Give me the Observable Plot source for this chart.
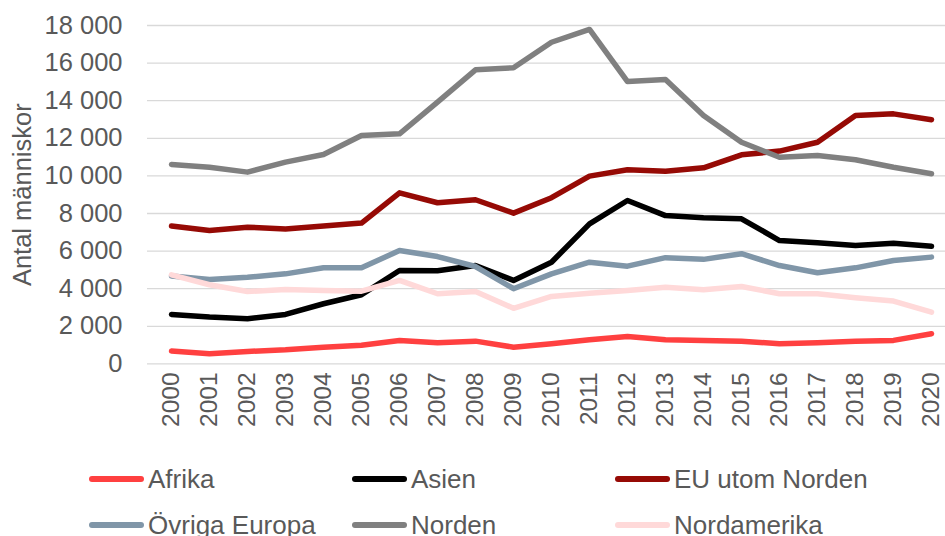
<!DOCTYPE html>
<html>
<head>
<meta charset="utf-8">
<script src="https://cdn.jsdelivr.net/npm/d3@7"></script>
<script src="https://cdn.jsdelivr.net/npm/@observablehq/plot@0.6"></script>
<style>
  html, body { margin: 0; padding: 0; background: #fff; overflow: hidden; }
  body { width: 945px; height: 536px; font-family: "Liberation Sans", Arial, sans-serif; color: #595959; }
  #legend { display: grid; grid-template-columns: 263px 263px 263px; padding-left: 89px; }
  .item { height: 46px; display: flex; align-items: center; font-size: 26px; white-space: nowrap; }
  .item svg { margin-right: 4px; flex: none; }
</style>
</head>
<body>
<div id="chart"></div>
<div id="legend"></div>
<script>
const years = [2000, 2001, 2002, 2003, 2004, 2005, 2006, 2007, 2008, 2009, 2010,
               2011, 2012, 2013, 2014, 2015, 2016, 2017, 2018, 2019, 2020];
const afrika       = [680, 540, 660, 750, 890, 990, 1240, 1120, 1210, 890, 1070, 1280, 1460, 1280, 1250, 1210, 1070, 1120, 1210, 1250, 1600];
const asien        = [2630, 2490, 2400, 2630, 3200, 3680, 4970, 4950, 5230, 4440, 5410, 7450, 8690, 7890, 7770, 7720, 6560, 6440, 6300, 6420, 6260];
const euUtomNorden = [7330, 7100, 7270, 7180, 7330, 7490, 9100, 8570, 8730, 8020, 8840, 9990, 10330, 10250, 10430, 11120, 11320, 11790, 13210, 13300, 12990];
const ovrigaEuropa = [4670, 4490, 4610, 4790, 5110, 5110, 6030, 5710, 5180, 4000, 4790, 5410, 5200, 5650, 5560, 5860, 5230, 4850, 5110, 5500, 5680];
const norden       = [10610, 10460, 10200, 10730, 11140, 12150, 12240, 13920, 15640, 15750, 17110, 17790, 15020, 15130, 13210, 11790, 10990, 11090, 10860, 10460, 10110];
const nordamerika  = [4740, 4210, 3850, 3960, 3900, 3870, 4440, 3730, 3850, 2960, 3590, 3760, 3900, 4080, 3940, 4120, 3730, 3730, 3520, 3340, 2750];

const seriesNames = ["Afrika", "Asien", "EU utom Norden", "Övriga Europa", "Norden", "Nordamerika"];
const seriesValues = [afrika, asien, euUtomNorden, ovrigaEuropa, norden, nordamerika];
const seriesColors = ["#FF4040", "#000000", "#960A05", "#8096A8", "#808080", "#FFD9D9"];
const yTicks = [0, 2000, 4000, 6000, 8000, 10000, 12000, 14000, 16000, 18000];
const yTitle = "Antal människor";

const rows = seriesNames.flatMap((name, i) =>
  years.map((year, j) => ({series: name, year, value: seriesValues[i][j]})));

const fmt = d => d3.format(",")(d).replace(/,/g, "\u00A0");
const textColor = "#595959";

const chart = Plot.plot({
  width: 945,
  height: 456,
  marginTop: 25,
  marginBottom: 92.6,
  marginLeft: 147,
  marginRight: 0,
  style: {fontFamily: "'Liberation Sans', Arial, sans-serif", color: textColor, background: "#fff"},
  x: {type: "point", domain: years, range: [166.7, 934.7], padding: 0},
  y: {domain: [0, 18000], range: [363.4, 25]},
  color: {domain: seriesNames, range: seriesColors},
  marks: [
    Plot.ruleY(yTicks, {stroke: "#D9D9D9", strokeWidth: 1.3}),
    Plot.axisY({ticks: yTicks, tickFormat: fmt, tickSize: 0, tickPadding: 25, fontSize: 25.5, label: null, fill: textColor}),
    Plot.axisX({tickFormat: d => `${d}`, tickRotate: -90, tickSize: 0, tickPadding: 8.5, fontSize: 24.5, label: null, fill: textColor}),
    Plot.text([yTitle], {frameAnchor: "left", dx: -125, rotate: -90, fontSize: 25.5, fill: textColor, textAnchor: "middle", lineAnchor: "middle"}),
    ...seriesNames.map(name =>
      Plot.lineY(rows.filter(d => d.series === name), {
        x: "year", y: "value", stroke: "series", strokeWidth: 5.5,
        strokeLinecap: "round", strokeLinejoin: "round"
      }))
  ]
});
document.getElementById("chart").appendChild(chart);

const legend = document.getElementById("legend");
seriesNames.forEach((name, i) => {
  const item = document.createElement("div");
  item.className = "item";
  item.innerHTML = `<svg width="55" height="10"><line x1="3" y1="5" x2="52" y2="5" stroke="${seriesColors[i]}" stroke-width="6" stroke-linecap="round"/></svg><span>${name}</span>`;
  legend.appendChild(item);
});
</script>
</body>
</html>
